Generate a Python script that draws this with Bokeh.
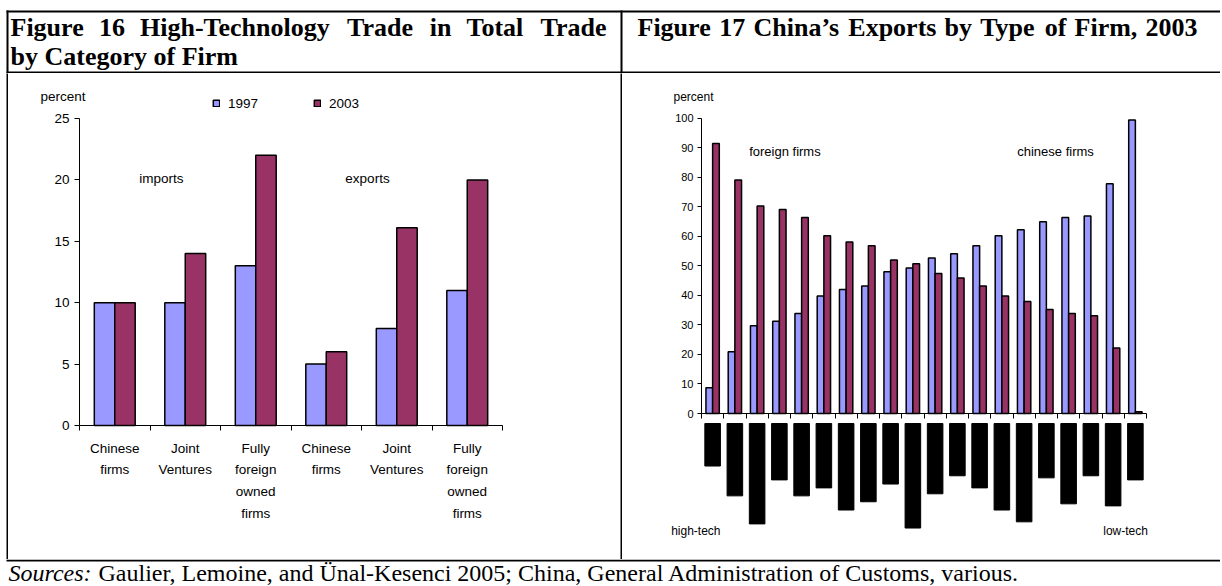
from bokeh.plotting import figure
from bokeh.models import (Range1d, FixedTicker, Label, Legend, LegendItem, ColumnDataSource,
                          LinearAxis)
from bokeh.layouts import column, row
from bokeh.transform import dodge
from bokeh.core.properties import value
from bokeh.embed import file_html
from bokeh.resources import INLINE

# ---------------- data ----------------
title16_line1 = "Figure 16 High-Technology Trade in Total Trade"
title16_line2 = "by Category of Firm"
title17 = "Figure 17 China\u2019s Exports by Type of Firm, 2003"
sources_lead = "Sources:"
sources_text = "Gaulier, Lemoine, and \u00dcnal-Kesenci 2005; China, General Administration of Customs, various."

fig16_categories = ["Chinese\nfirms", "Joint\nVentures", "Fully\nforeign\nowned\nfirms",
                    "Chinese\nfirms", "Joint\nVentures", "Fully\nforeign\nowned\nfirms"]
fig16_1997 = [10, 10, 13, 5, 7.9, 11]
fig16_2003 = [10, 14, 22, 6, 16.1, 20]
fig16_yticks = [0, 5, 10, 15, 20, 25]
fig16_series = ["1997", "2003"]

# 20 product groups, ordered from high-tech to low-tech
fig17_foreign = [91.4, 79.1, 70.3, 69.1, 66.4, 60.2, 58.1, 56.8, 52.0, 50.7,
                 47.4, 45.9, 43.2, 39.8, 37.9, 35.2, 33.9, 33.1, 22.2, 0.6]
fig17_chinese = [8.7, 20.9, 29.7, 31.2, 33.9, 39.8, 42.0, 43.2, 48.0, 49.3,
                 52.7, 54.1, 56.8, 60.2, 62.2, 64.9, 66.4, 66.9, 77.8, 99.4]
fig17_weight = [14.4, 24.5, 34.0, 19.1, 24.5, 21.8, 29.3, 26.5, 20.5, 35.4,
                23.8, 17.7, 21.8, 29.3, 33.3, 18.4, 27.2, 17.7, 27.9, 19.1]
fig17_yticks = [0, 10, 20, 30, 40, 50, 60, 70, 80, 90, 100]

BLUE = "#9999FF"
RED = "#993366"
SANS = "Liberation Sans"
SERIF = "Liberation Serif"

# Times-Bold advance widths (per 1000 em) for justification of title lines
TB = {' ': 250, 'F': 611, 'i': 278, 'g': 500, 'u': 556, 'r': 444, 'e': 444, '1': 500, '6': 500,
      '7': 500, 'H': 778, 'h': 556, '-': 333, 'T': 667, 'c': 444, 'n': 556, 'o': 500, 'l': 278,
      'y': 500, 'a': 500, 'd': 556, 't': 333, 'C': 722, '\u2019': 333, 's': 389, 'E': 667,
      'x': 500, 'p': 556, 'b': 556, 'f': 333, 'm': 833, ',': 250, '2': 500, '0': 500, '3': 500}


def justify(text, left, right, size):
    words = text.split(" ")
    widths = [sum(TB.get(c, 500) for c in w) * size / 1000.0 for w in words]
    gap = (right - left - sum(widths)) / (len(words) - 1)
    xs, x = [], left
    for w in widths:
        xs.append(x)
        x += w + gap
    return words, xs


def mkfig(**kw):
    base = dict(output_backend="svg", toolbar_location=None, outline_line_color=None)
    base.update(kw)
    try:
        f = figure(title_location=None, **base)
    except Exception:
        f = figure(**base)
        f.title.text_font_size = "0px"
    f.grid.visible = False
    return f


def strip(w, h, color="black"):
    return mkfig(width=w, height=h, min_border=0, x_axis_location=None, y_axis_location=None,
                 background_fill_color=color, border_fill_color=color)


def canvas(w, h):
    return mkfig(width=w, height=h, min_border=0, x_axis_location=None, y_axis_location=None,
                 x_range=Range1d(0, w), y_range=Range1d(h, 0))


TOTAL_W = 1220
XB = 6            # left border position
W1 = 612          # left cell width
W2 = TOTAL_W - XB - 2 - W1 - 2
H_TITLE = 73
H_BODY = 486
H_SRC = 586 - H_TITLE - H_BODY
TSIZE = 26

# ---------------- title row (frame lines + titles) ----------------
T = canvas(TOTAL_W, H_TITLE)
T.quad(left=[XB, XB, XB, XB + 2 + W1], right=[TOTAL_W, TOTAL_W, XB + 2, XB + 4 + W1],
       top=[10, H_TITLE - 2, 10, 10], bottom=[12, H_TITLE, H_TITLE, H_TITLE],
       fill_color="black", line_color=None)
words, xs = justify(title16_line1, 10, 608, TSIZE)
T.text(x=xs, y=[27.2] * len(words), text=words, text_font=value(SERIF), text_font_style="bold",
       text_font_size=f"{TSIZE}px", text_baseline="middle", text_color="black")
T.text(x=[10], y=[56.2], text=[title16_line2], text_font=value(SERIF), text_font_style="bold",
       text_font_size=f"{TSIZE}px", text_baseline="middle", text_color="black")
words, xs = justify(title17, 637, 1197, TSIZE)
T.text(x=xs, y=[27.2] * len(words), text=words, text_font=value(SERIF), text_font_style="bold",
       text_font_size=f"{TSIZE}px", text_baseline="middle", text_color="black")

# ---------------- figure 16 ----------------
n1 = len(fig16_categories)
idx1 = list(range(n1))
src1 = ColumnDataSource(dict(x=idx1, a=fig16_1997, b=fig16_2003))
ML1 = 30                       # left panel (axis) width
AX1 = 71                       # y-axis position inside the cell
CAT1 = 70.5                    # px per category
Y0_1 = 352                     # y of the zero line inside the cell
BELOW1 = 8                     # frame continues a little below the zero line
PXU1 = 307.0 / fig16_yticks[-1]
x0_1 = -0.5 - (AX1 - ML1) / CAT1
p1 = mkfig(width=W1, height=H_BODY,
           x_range=Range1d(x0_1, x0_1 + (W1 - ML1) / CAT1),
           y_range=Range1d(-BELOW1 / PXU1, Y0_1 / PXU1),
           min_border_left=ML1, min_border_right=0, min_border_top=0,
           min_border_bottom=H_BODY - Y0_1 - BELOW1)
r97 = p1.vbar(x=dodge("x", -0.145), top="a", width=0.29, source=src1,
              fill_color=BLUE, line_color="black", line_width=1.5)
r03 = p1.vbar(x=dodge("x", 0.145), top="b", width=0.29, source=src1,
              fill_color=RED, line_color="black", line_width=1.5)

# axis line with category boundary ticks, drawn at zero
bounds1 = [i - 0.5 for i in range(n1 + 1)]
xa = p1.xaxis[0]
xa.fixed_location = 0
xa.bounds = (-0.5, n1 - 0.5)
xa.ticker = FixedTicker(ticks=bounds1)
xa.major_label_overrides = {b: "" for b in bounds1}
xa.major_label_text_font_size = "0px"
xa.major_label_standoff = 0
xa.major_tick_in = 0
xa.major_tick_out = 5
xa.major_tick_line_color = "black"
xa.minor_tick_line_color = None
xa.axis_line_color = "black"

# category labels
xl = LinearAxis(ticker=FixedTicker(ticks=idx1),
                major_label_overrides={i: lab for i, lab in enumerate(fig16_categories)},
                axis_line_color=None, major_tick_line_color=None, minor_tick_line_color=None,
                major_tick_in=0, major_tick_out=0, major_label_standoff=7,
                major_label_text_font=SANS, major_label_text_font_size="13.5px",
                major_label_text_line_height=1.45, major_label_text_color="black")
p1.add_layout(xl, "below")

ya = p1.yaxis[0]
ya.fixed_location = -0.5
ya.bounds = (fig16_yticks[0], fig16_yticks[-1])
ya.ticker = FixedTicker(ticks=fig16_yticks)
ya.major_tick_in = 0
ya.major_tick_out = 5
ya.minor_tick_line_color = None
ya.axis_line_color = "black"
ya.major_label_text_font = SANS
ya.major_label_text_font_size = "13.5px"
ya.major_label_text_color = "black"
ya.major_label_standoff = 5

p1.add_layout(Label(x=-0.415, y=26.77, text="percent", text_align="right", text_baseline="middle",
                    text_font=SANS, text_font_size="13.5px", text_color="black"))
p1.add_layout(Label(x=0.66, y=20.1, text="imports", text_align="center", text_baseline="middle",
                    text_font=SANS, text_font_size="13.5px", text_color="black"))
p1.add_layout(Label(x=3.585, y=20.1, text="exports", text_align="center", text_baseline="middle",
                    text_font=SANS, text_font_size="13.5px", text_color="black"))
legend = Legend(items=[LegendItem(label=fig16_series[0], renderers=[r97]),
                       LegendItem(label=fig16_series[1], renderers=[r03])],
                orientation="horizontal", location=(204 - ML1, Y0_1 + BELOW1 - 30 - 8),
                border_line_color=None, background_fill_alpha=0,
                glyph_width=8, glyph_height=8, label_standoff=8, spacing=55,
                padding=0, margin=0, label_height=16,
                label_text_font=SANS, label_text_font_size="13.5px", label_text_color="black")
p1.add_layout(legend)

# ---------------- figure 17 ----------------
n2 = len(fig17_chinese)
idx2 = list(range(n2))
ML2 = 30
AX2 = 79
CAT2 = 445.0 / n2
Y0_2 = 340
PXU2 = 295.3 / fig17_yticks[-1]
MB2 = 8
GAP = 10 / PXU2                # black bars hang 10 px below the axis
src2 = ColumnDataSource(dict(x=idx2, ch=fig17_chinese, fo=fig17_foreign,
                             wt=[-GAP] * n2, wb=[-GAP - w for w in fig17_weight]))
x0_2 = -0.5 - (AX2 - ML2) / CAT2
p2 = mkfig(width=W2, height=H_BODY,
           x_range=Range1d(x0_2, x0_2 + (W2 - ML2) / CAT2),
           y_range=Range1d(-(H_BODY - MB2 - Y0_2) / PXU2, Y0_2 / PXU2),
           min_border_left=ML2, min_border_right=0, min_border_top=0, min_border_bottom=MB2)
p2.vbar(x=dodge("x", -0.15), top="ch", width=0.3, source=src2,
        fill_color=BLUE, line_color="black", line_width=1.5)
p2.vbar(x=dodge("x", 0.15), top="fo", width=0.3, source=src2,
        fill_color=RED, line_color="black", line_width=1.5)
p2.vbar(x="x", top="wt", bottom="wb", width=0.7, source=src2, fill_color="black", line_color="black")

xb = p2.xaxis[0]
bounds2 = [i - 0.5 for i in range(n2 + 1)]
xb.fixed_location = 0
xb.bounds = (-0.5, n2 - 0.5)
xb.ticker = FixedTicker(ticks=bounds2)
xb.major_label_overrides = {b: "" for b in bounds2}
xb.major_label_text_font_size = "0px"
xb.major_label_standoff = 0
xb.major_tick_in = 0
xb.major_tick_out = 5
xb.minor_tick_line_color = None
xb.axis_line_color = "black"

yb = p2.yaxis[0]
yb.fixed_location = -0.5
yb.bounds = (fig17_yticks[0], fig17_yticks[-1])
yb.ticker = FixedTicker(ticks=fig17_yticks)
yb.major_tick_in = 0
yb.major_tick_out = 4
yb.minor_tick_line_color = None
yb.axis_line_color = "black"
yb.major_label_text_font = SANS
yb.major_label_text_font_size = "11px"
yb.major_label_text_color = "black"
yb.major_label_standoff = 4

p2.add_layout(Label(x=0.04, y=107.1, text="percent", text_align="right", text_baseline="middle",
                    text_font=SANS, text_font_size="12px", text_color="black"))
p2.add_layout(Label(x=3.25, y=88.7, text="foreign firms", text_align="center", text_baseline="middle",
                    text_font=SANS, text_font_size="13px", text_color="black"))
p2.add_layout(Label(x=15.41, y=88.7, text="chinese firms", text_align="center", text_baseline="middle",
                    text_font=SANS, text_font_size="13px", text_color="black"))
p2.add_layout(Label(x=0.354, y=-39.9, text="high-tech", text_align="right", text_baseline="middle",
                    text_font=SANS, text_font_size="12px", text_color="black"))
p2.add_layout(Label(x=18.56, y=-39.9, text="low-tech", text_align="center", text_baseline="middle",
                    text_font=SANS, text_font_size="12px", text_color="black"))

# ---------------- sources row ----------------
S = canvas(TOTAL_W, H_SRC)
S.quad(left=[XB], right=[TOTAL_W], top=[0], bottom=[2], fill_color="black", line_color=None)
SSIZE = 24
lead_w = (500 + 500 + 500 + 389 + 444 + 444 + 389 + 333 + 250) * SSIZE / 1000.0
S.text(x=[8], y=[13.2], text=[sources_lead], text_font=value(SERIF), text_font_style="italic",
       text_font_size=f"{SSIZE}px", text_baseline="middle", text_color="black")
S.text(x=[8 + lead_w], y=[13.2], text=[sources_text], text_font=value(SERIF),
       text_font_size=f"{SSIZE}px", text_baseline="middle", text_color="black")

layout = column(
    T,
    row(strip(XB, H_BODY, "white"), strip(2, H_BODY), column(p1), strip(2, H_BODY), column(p2)),
    S,
)

open("out.html", "w").write(file_html(layout, INLINE))
